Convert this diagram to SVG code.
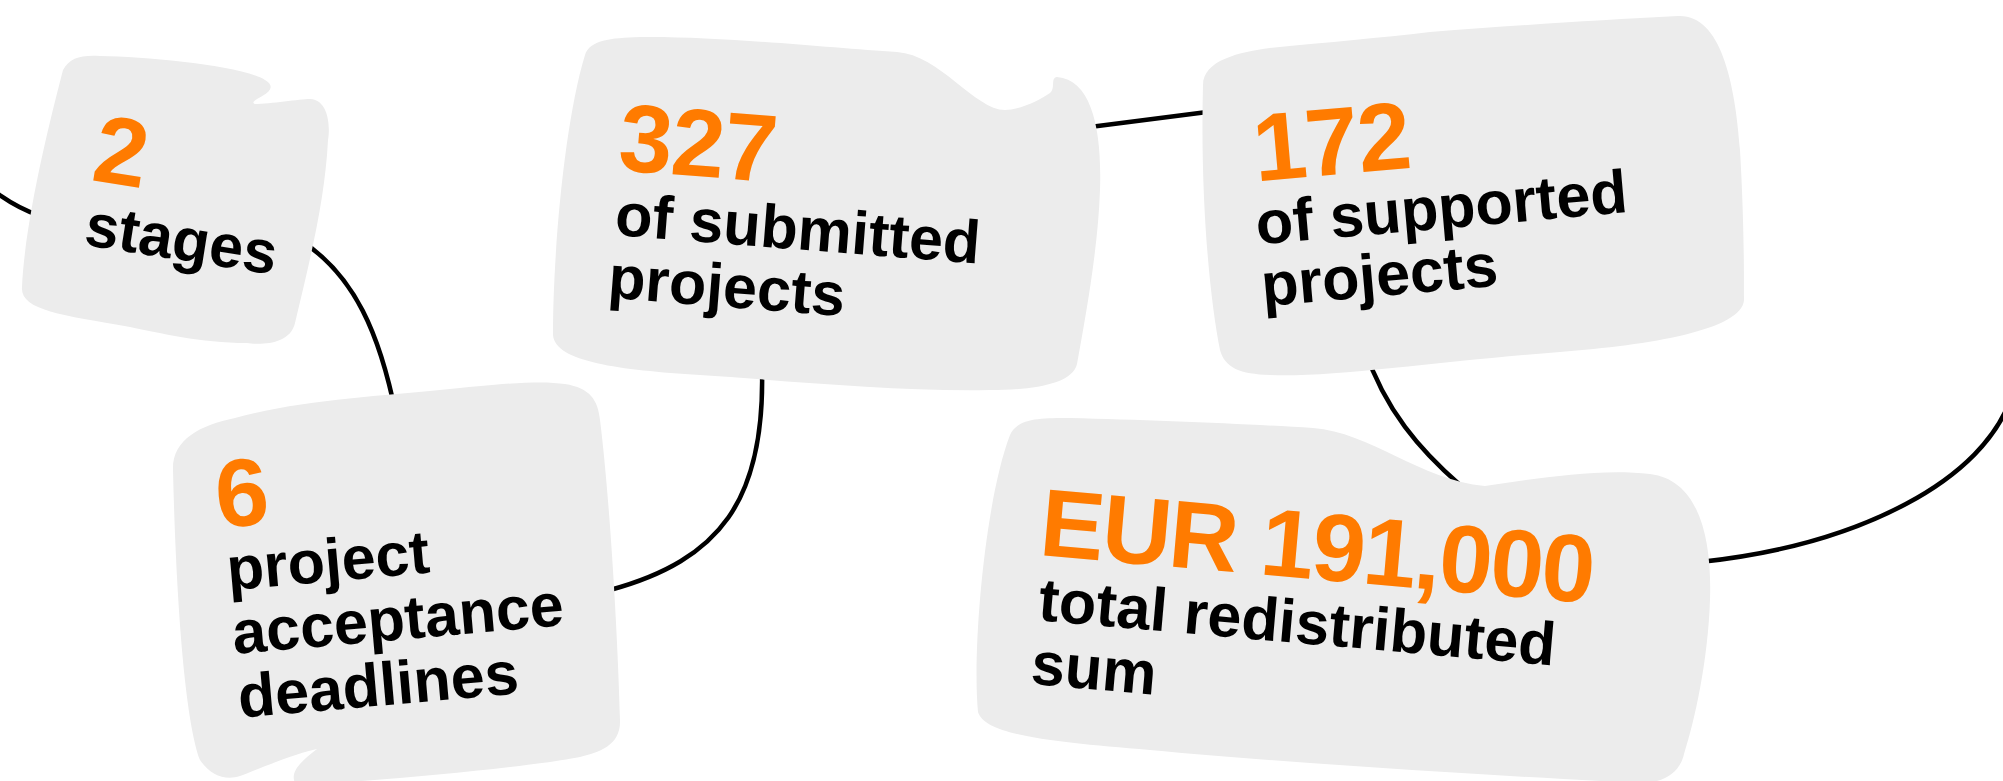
<svg xmlns="http://www.w3.org/2000/svg" width="2003" height="781" viewBox="0 0 2003 781">
<style>
.blob{fill:#ececec;stroke:none}
.num{font-family:"Liberation Sans",Arial,Helvetica,sans-serif;font-weight:bold;font-size:96px;fill:#ff7b00;letter-spacing:-1px}
.lbl{font-family:"Liberation Sans",Arial,Helvetica,sans-serif;font-weight:bold;font-size:61px;fill:#000}
.conn{fill:none;stroke:#000;stroke-width:4.5;stroke-linecap:round}
</style>
<rect width="2003" height="781" fill="#ffffff"/>
<g id="connectors">
<path class="conn" d="M -30,168 C -10,190 10,205 40,216"/>
<path class="conn" d="M 300,240 C 355,275 380,335 396,415"/>
<path class="conn" d="M 762,370 C 765,500 720,560 610,590"/>
<path class="conn" d="M 1090,127 L 1215,111"/>
<path class="conn" d="M 1365,350 C 1385,410 1420,450 1460,485"/>
<path class="conn" d="M 1700,562 C 1860,545 1985,480 2012,395"/>
</g>
<g id="node-stages">
<path class="blob" d="M 63,70 C 70,58 80,55 100,56 C 150,57 240,65 265,80 C 285,92 245,100 255,104 C 270,104 300,99 310,99 C 330,100 330,130 328,140 C 325,200 310,260 295,323 C 290,345 260,345 247,343 C 200,343 160,333 130,327 C 60,315 20,310 22,287 C 25,220 50,120 63,70 Z"/>
<g transform="translate(90,180) rotate(9)">
<text class="num" x="0" y="0">2</text>
<text class="lbl" x="3" y="65">stages</text>
</g>
</g>
<g id="node-deadlines">
<path class="blob" d="M 173,470 C 172,440 200,425 235,418 C 300,400 380,396 440,390 C 500,384 540,380 565,384 C 590,388 598,400 600,420 C 610,500 618,640 620,720 C 621,745 600,752 580,757 C 540,765 420,778 330,783 L 295,783 C 290,772 300,762 317,749 C 300,752 260,768 240,776 C 225,781 210,775 200,760 C 185,720 176,600 173,470 Z"/>
<g transform="translate(218,528) rotate(-5)">
<text class="num" x="0" y="0">6</text>
<text class="lbl" x="5" y="63">project</text>
<text class="lbl" x="5" y="127">acceptance</text>
<text class="lbl" x="5" y="191">deadlines</text>
</g>
</g>
<g id="node-submitted">
<path class="blob" d="M 585,55 C 590,40 610,38 640,37 C 720,36 830,48 897,52 C 940,55 975,110 1005,110 C 1020,110 1040,100 1050,93 C 1056,88 1050,78 1057,77 C 1092,80 1102,130 1100,190 C 1098,250 1085,320 1077,364 C 1072,385 1030,390 990,390 C 900,392 780,380 700,375 C 620,370 555,362 553,335 C 553,250 565,120 585,55 Z"/>
<g transform="translate(617,170) rotate(4.5)">
<text class="num" x="0" y="0">327</text>
<text class="lbl" x="2" y="65">of submitted</text>
<text class="lbl" x="0" y="128">projects</text>
</g>
</g>
<g id="node-supported">
<path class="blob" d="M 1203,85 C 1203,60 1240,52 1270,48 C 1330,42 1380,38 1430,32 C 1520,25 1600,20 1678,16 C 1720,14 1735,80 1740,150 C 1744,220 1744,270 1744,300 C 1742,330 1650,345 1560,352 C 1450,360 1330,378 1270,375 C 1240,374 1225,368 1220,350 C 1210,300 1200,200 1203,85 Z"/>
<g transform="translate(1250,182) rotate(-5)">
<text class="num" x="6" y="0">172</text>
<text class="lbl" x="2" y="63">of supported</text>
<text class="lbl" x="2" y="125">projects</text>
</g>
</g>
<g id="node-sum">
<path class="blob" d="M 1010,435 C 1018,418 1040,418 1070,418 C 1150,420 1250,424 1313,428 C 1370,432 1420,480 1485,486 C 1540,478 1600,468 1650,474 C 1700,480 1712,540 1710,600 C 1708,660 1695,720 1684,754 C 1680,772 1665,783 1640,783 C 1500,776 1300,764 1150,750 C 1050,742 985,735 978,712 C 972,650 985,500 1010,435 Z"/>
<g transform="translate(1038,555) rotate(5)">
<text class="num" x="0" y="0" style="letter-spacing:-2px">EUR 191,000</text>
<text class="lbl" x="5" y="65">total redistributed</text>
<text class="lbl" x="3" y="129">sum</text>
</g>
</g>
</svg>
